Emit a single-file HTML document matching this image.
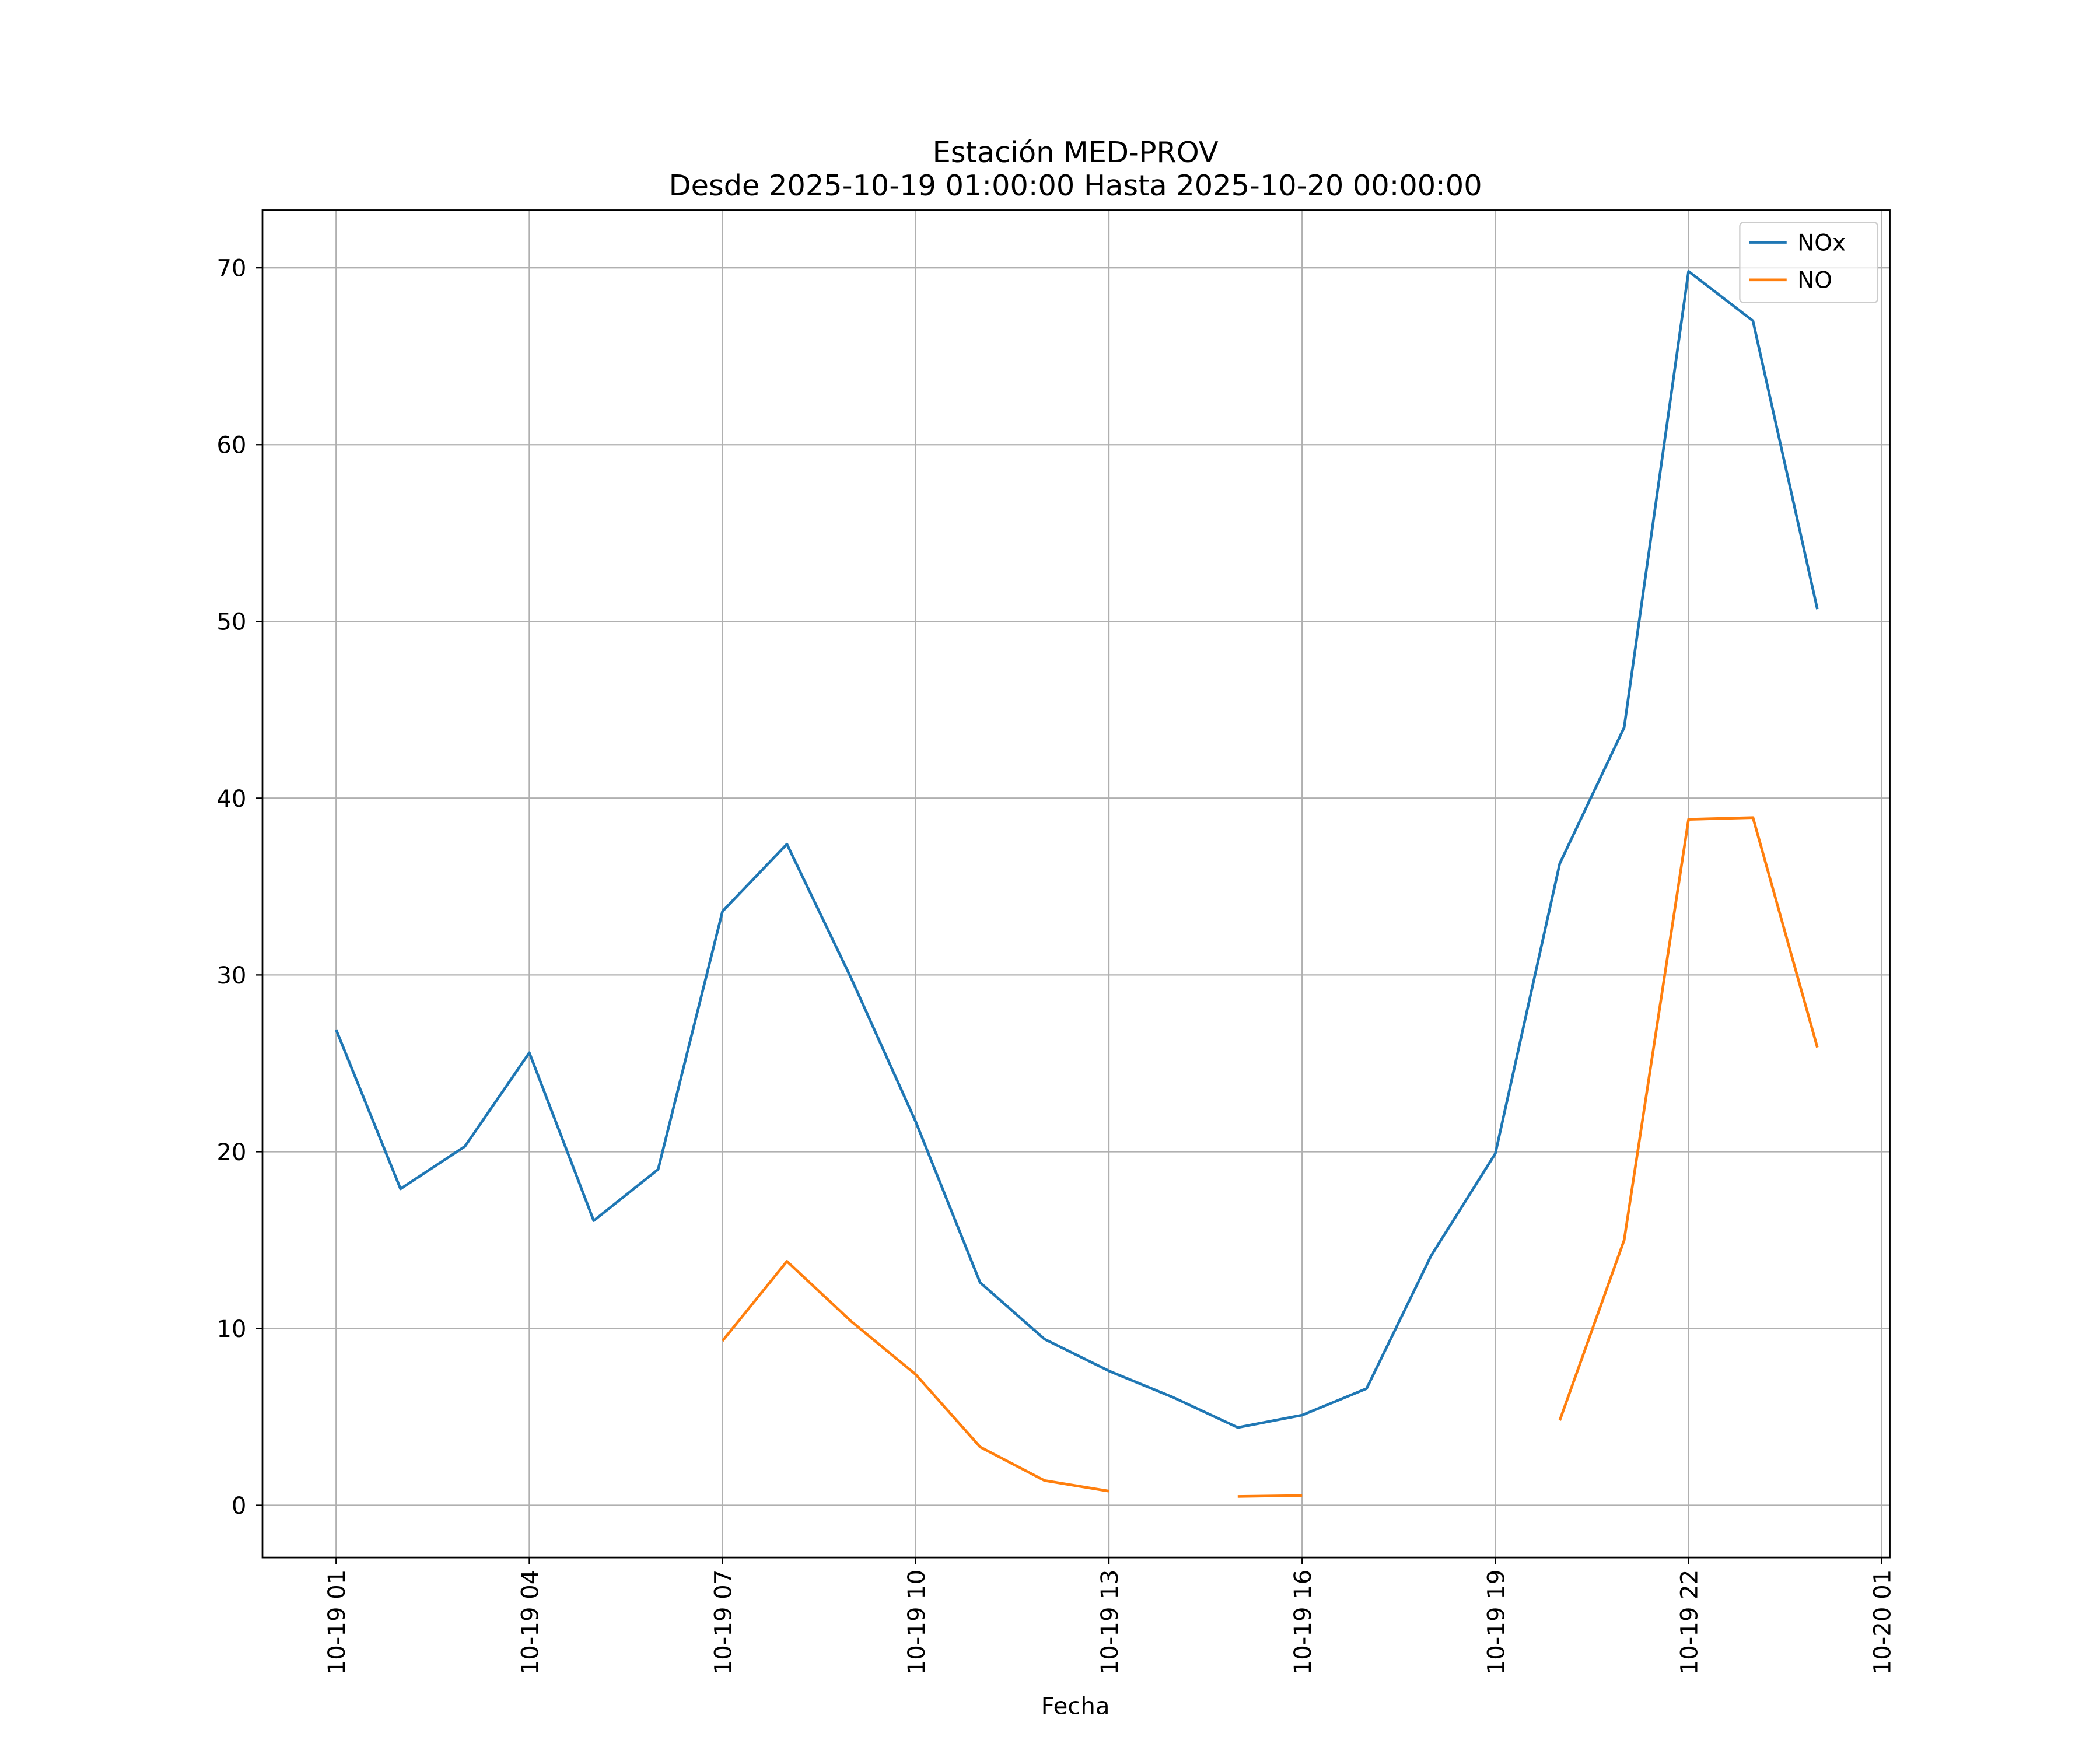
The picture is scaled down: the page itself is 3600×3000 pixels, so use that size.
<!DOCTYPE html>
<html><head><meta charset="utf-8"><style>html,body{margin:0;padding:0;background:#fff}svg{display:block}text{font-family:"DejaVu Sans","Liberation Sans",sans-serif;fill:#000}</style></head>
<body>
<svg id="chart" width="3600" height="3000" viewBox="0 0 1568 1306.7" preserveAspectRatio="none" xmlns="http://www.w3.org/2000/svg">
<text x="803" y="121" font-size="21.5" text-anchor="middle">Estación MED-PROV</text>
<text x="803" y="146" font-size="21.5" text-anchor="middle">Desde 2025-10-19 01:00:00 Hasta 2025-10-20 00:00:00</text>
<g id="grid"></g>
<g id="series"></g>
<rect x="196" y="157" width="1215" height="1006" fill="none" stroke="#000" stroke-width="1.2"/>
<g id="ticks"></g>
<text x="803" y="1280" font-size="17.5" text-anchor="middle">Fecha</text>
<g>
<rect x="1299" y="166" width="103" height="60" fill="#fff" fill-opacity="0.8" stroke="#ccc" rx="3"/>
<line x1="1306" y1="181" x2="1334" y2="181" stroke="#1f77b4" stroke-width="2"/>
<text x="1342" y="187" font-size="17">NOx</text>
<line x1="1306" y1="209" x2="1334" y2="209" stroke="#ff7f0e" stroke-width="2"/>
<text x="1342" y="215" font-size="17">NO</text>
</g>
</svg>
<script>
const hours=[1,2,3,4,5,6,7,8,9,10,11,12,13,14,15,16,17,18,19,20,21,22,23,24];
const noxValues=[26.9,17.9,20.3,25.6,16.1,19.0,33.6,37.4,29.8,21.7,12.6,9.4,7.6,6.1,4.4,5.1,6.6,14.1,19.9,36.3,44.0,69.8,67.0,50.7];
const noValues=[null,null,null,null,null,null,9.3,13.8,10.4,7.4,3.3,1.4,0.8,null,0.5,0.55,null,null,null,4.8,15.0,38.8,38.9,25.9];
const xTickHours=[1,4,7,10,13,16,19,22,25];
const xTickLabels=["10-19 01","10-19 04","10-19 07","10-19 10","10-19 13","10-19 16","10-19 19","10-19 22","10-20 01"];
const yTicks=[0,10,20,30,40,50,60,70];
const NS="http://www.w3.org/2000/svg";
const xs=h=>251+(h-1)*(1405-251)/24;
const ys=v=>1124-v*(1124-200)/70;
function mk(tag,attrs,parent){const e=document.createElementNS(NS,tag);for(const k in attrs)e.setAttribute(k,attrs[k]);parent.appendChild(e);return e;}
const grid=document.getElementById('grid'),ticks=document.getElementById('ticks'),series=document.getElementById('series');
xTickHours.forEach((h,i)=>{const x=xs(h);
 if(x<1411){const g=mk('line',{x1:x,x2:x,y1:157,y2:1163,stroke:'#b0b0b0','stroke-width':1},grid);
 
 }
 mk('line',{x1:x,x2:x,y1:1163,y2:1168,stroke:'#000'},ticks);
 const t=mk('text',{x:0,y:0,'font-size':17.5,'text-anchor':'end',transform:`translate(${x+6.5},1172) rotate(-90)`},ticks);
 t.textContent=xTickLabels[i];
 
 });
yTicks.forEach(v=>{const y=ys(v);
 const g=mk('line',{x1:196,x2:1411,y1:y,y2:y,stroke:'#b0b0b0','stroke-width':1},grid);
 
 
 mk('line',{x1:191,x2:196,y1:y,y2:y,stroke:'#000'},ticks);
 const t=mk('text',{x:184,y:y+6.3,'font-size':17.5,'text-anchor':'end'},ticks);
 t.textContent=v;
 
 });
function draw(vals,color,name){let d='',pen=false;
 vals.forEach((v,i)=>{if(v==null){pen=false;return;}d+=(pen?'L':'M')+xs(hours[i])+' '+ys(v)+' ';pen=true;});
 const p=mk('path',{d:d,fill:'none',stroke:color,'stroke-width':2,'stroke-linejoin':'round'},series);
 
 }
draw(noxValues,'#1f77b4','nox-line');
draw(noValues,'#ff7f0e','no-line');
</script>
</body></html>
